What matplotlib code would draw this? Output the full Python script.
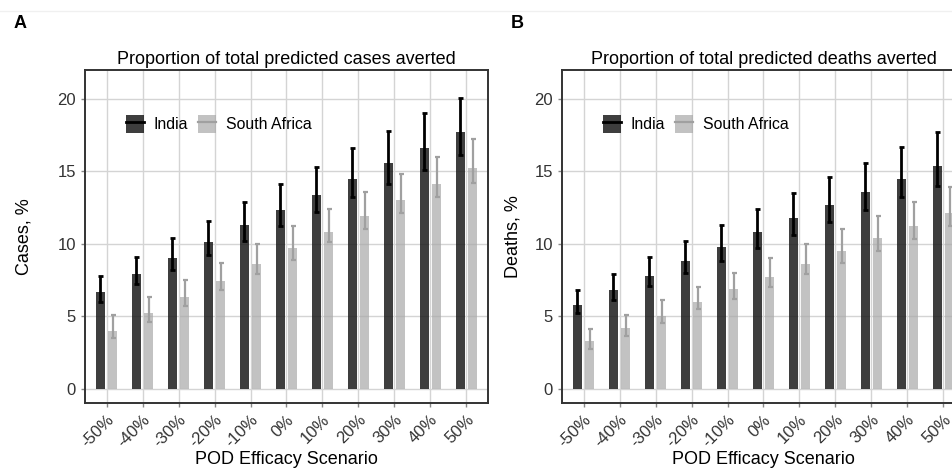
import numpy as np
import matplotlib
matplotlib.use('Agg')
from matplotlib import pyplot as plt
from matplotlib import transforms
from matplotlib.patches import Patch
from matplotlib.lines import Line2D
from matplotlib.legend_handler import HandlerTuple

plt.rcParams['font.family'] = ['Liberation Sans', 'DejaVu Sans']

scenarios = ['-50%', '-40%', '-30%', '-20%', '-10%', '0%', '10%', '20%', '30%', '40%', '50%']

# panel A: cases averted, %
cases_india = [6.7, 7.9, 9.0, 10.1, 11.3, 12.3, 13.4, 14.5, 15.6, 16.6, 17.7]
cases_india_lo = [6.0, 7.2, 8.2, 9.2, 10.2, 11.2, 12.2, 13.2, 14.1, 15.1, 16.1]
cases_india_hi = [7.8, 9.1, 10.4, 11.6, 12.9, 14.1, 15.3, 16.6, 17.8, 19.0, 20.1]
cases_sa = [4.0, 5.2, 6.3, 7.4, 8.6, 9.7, 10.8, 11.9, 13.0, 14.1, 15.2]
cases_sa_lo = [3.5, 4.6, 5.7, 6.8, 7.9, 8.9, 10.1, 11.0, 12.1, 13.2, 14.2]
cases_sa_hi = [5.1, 6.3, 7.5, 8.7, 10.0, 11.2, 12.4, 13.6, 14.8, 16.0, 17.2]

# panel B: deaths averted, %
deaths_india = [5.8, 6.8, 7.8, 8.8, 9.8, 10.8, 11.8, 12.7, 13.6, 14.5, 15.4]
deaths_india_lo = [5.2, 6.1, 7.1, 8.0, 8.8, 9.7, 10.6, 11.5, 12.3, 13.2, 14.0]
deaths_india_hi = [6.8, 7.9, 9.1, 10.2, 11.3, 12.4, 13.5, 14.6, 15.6, 16.7, 17.7]
deaths_sa = [3.3, 4.2, 5.0, 6.0, 6.9, 7.7, 8.6, 9.5, 10.4, 11.2, 12.1]
deaths_sa_lo = [2.7, 3.6, 4.5, 5.5, 6.2, 7.0, 7.9, 8.7, 9.5, 10.3, 11.2]
deaths_sa_hi = [4.1, 5.1, 6.1, 7.0, 8.0, 9.0, 10.0, 11.0, 11.9, 12.9, 13.9]

W, H = 953, 469
fig = plt.figure(figsize=(W / 100, H / 100), dpi=100)

def draw_panel(ax, title, ylabel, ylab_x, ind, ind_lo, ind_hi, sa, sa_lo, sa_hi):
   x = np.arange(len(scenarios))
   ind = np.array(ind); sa = np.array(sa)
   ax.set_axisbelow(True)
   ax.grid(True, color='#d4d4d4', lw=1.0)
   ax.bar(x - 0.17, ind, width=0.25, color='#1c1c1c', alpha=0.85, zorder=2)
   ax.bar(x + 0.17, sa, width=0.24, color='#a8a8a8', alpha=0.7, zorder=2)
   ax.errorbar(x - 0.17, ind, yerr=[ind - np.array(ind_lo), np.array(ind_hi) - ind],
               fmt='none', ecolor='black', elinewidth=2, capsize=1.8, capthick=2, zorder=3)
   ax.errorbar(x + 0.17, sa, yerr=[sa - np.array(sa_lo), np.array(sa_hi) - sa],
               fmt='none', ecolor='#a0a0a0', elinewidth=1.6, capsize=1.8, capthick=1.6, zorder=3)
   ax.set_xlim(-0.6, len(scenarios) - 0.4)
   ax.set_ylim(-1, 22)
   ax.set_yticks([0, 5, 10, 15, 20])
   ax.set_xticks(x)
   ax.set_xticklabels(scenarios, rotation=45, ha='right', va='center', rotation_mode='anchor')
   ax.tick_params(axis='both', colors='#888888', labelcolor='#333333', labelsize=12, length=3, width=1)
   ax.tick_params(axis='x', pad=8)
   # nudge the rotated labels right, as in the original
   shift = transforms.ScaledTranslation(0.05, 0.01, fig.dpi_scale_trans)
   for lab in ax.get_xticklabels():
      lab.set_transform(lab.get_transform() + shift)
   for s in ax.spines.values():
      s.set_color('#333333')
      s.set_linewidth(1.4)
   ax.set_title(title, fontsize=13, pad=4, color='black')
   ax.set_ylabel(ylabel, fontsize=13, va='center')
   ax.yaxis.set_label_coords(ylab_x, 0.5)
   ax.set_xlabel('POD Efficacy Scenario', fontsize=13, va='center')
   ax.xaxis.set_label_coords(0.5, -0.171)
   handles = [(Patch(facecolor='#1c1c1c', alpha=0.85), Line2D([], [], color='black', lw=2)),
              (Patch(facecolor='#a8a8a8', alpha=0.7), Line2D([], [], color='#a0a0a0', lw=1.6))]
   ax.legend(handles, ['India', 'South Africa'], handler_map={tuple: HandlerTuple(ndivide=1)},
             loc='center left', bbox_to_anchor=(0.102, 0.838), ncol=2, frameon=False,
             fontsize=11.4, handlelength=1.15, handleheight=1.3, handletextpad=0.6,
             columnspacing=0.6, borderaxespad=0, borderpad=0)

aw = (488 - 85) / W
ab = (469 - 403) / H
ah = (403 - 70) / H
ax1 = fig.add_axes([85 / W, ab, aw, ah])
ax2 = fig.add_axes([562 / W, ab, aw, ah])
draw_panel(ax1, 'Proportion of total predicted cases averted', 'Cases, %', (23.5 - 85) / 403,
           cases_india, cases_india_lo, cases_india_hi, cases_sa, cases_sa_lo, cases_sa_hi)
draw_panel(ax2, 'Proportion of total predicted deaths averted', 'Deaths, %', (512.5 - 562) / 403,
           deaths_india, deaths_india_lo, deaths_india_hi, deaths_sa, deaths_sa_lo, deaths_sa_hi)

fig.text(20 / W, 1 - 23.5 / H, 'A', fontsize=13, fontweight='bold', ha='center', va='center')
fig.text(517 / W, 1 - 23.5 / H, 'B', fontsize=13, fontweight='bold', ha='center', va='center')
fig.add_artist(Line2D([0, 1], [1 - 11 / H, 1 - 11 / H], color='#f0f0f0', lw=1))

fig.savefig('out.png', dpi=100)
